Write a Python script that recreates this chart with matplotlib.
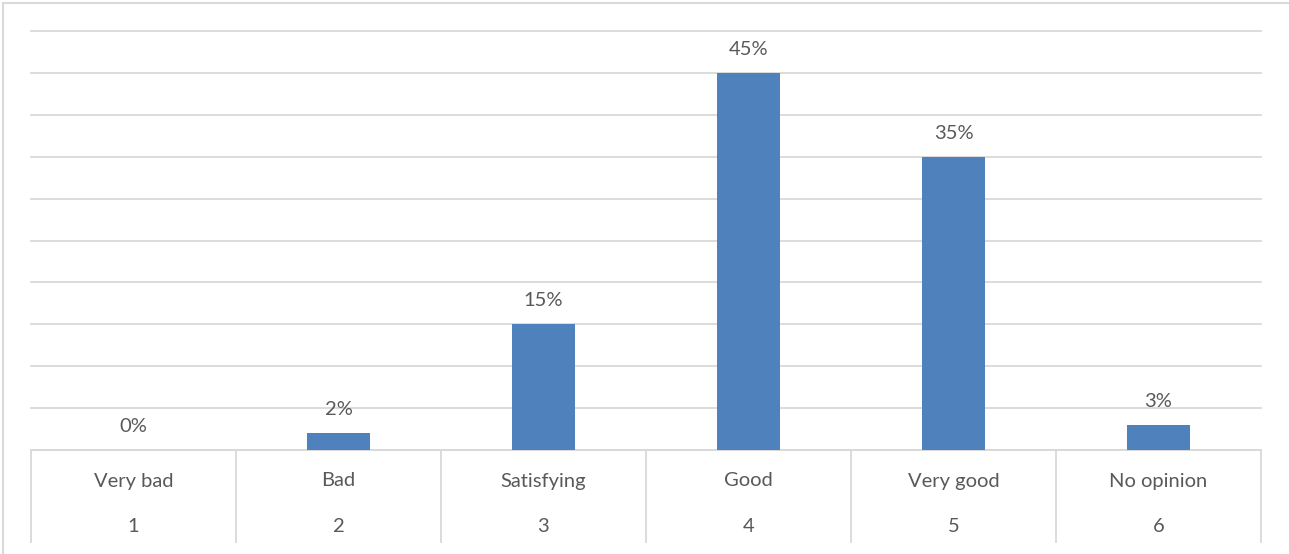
import matplotlib.pyplot as plt
from matplotlib.lines import Line2D
import matplotlib.transforms as mtransforms

# Survey results
categories = ["Very bad", "Bad", "Satisfying", "Good", "Very good", "No opinion"]
codes = ["1", "2", "3", "4", "5", "6"]
shares = [0.00, 0.02, 0.15, 0.45, 0.35, 0.03]
value_labels = ["0%", "2%", "15%", "45%", "35%", "3%"]

plt.rcParams["font.family"] = ["Lato", "DejaVu Sans"]

W, H = 1289, 554
fig = plt.figure(figsize=(W / 100, H / 100), dpi=100)
ax = fig.add_axes([31 / W, (H - 450) / H, (1261 - 31) / W, (450 - 31) / H])

text_color = "#595959"
grid_color = "#D9D9D9"
fs = 14.5
positions = list(range(1, len(categories) + 1))

ax.bar(positions, shares, width=0.31, color="#4F81BD", zorder=3)

for x, v, lab in zip(positions, shares, value_labels):
    ax.annotate(lab, (x, v), xytext=(0, 17), textcoords="offset points",
                ha="center", va="center", fontsize=fs, color=text_color)

ax.set_xlim(0.5, len(categories) + 0.5)
ax.set_ylim(0, 0.5)
ax.set_yticks([i * 0.05 for i in range(11)])
ax.yaxis.grid(True, color=grid_color, linewidth=1.3)
for gl in ax.get_ygridlines():
    gl.set_clip_on(False)
ax.set_axisbelow(True)
ax.tick_params(left=False, labelleft=False, bottom=False, labelbottom=False)
for s in ["top", "left", "right"]:
    ax.spines[s].set_visible(False)
ax.spines["bottom"].set_color(grid_color)
ax.spines["bottom"].set_linewidth(1.3)

# Two-level category axis with separators
trans = mtransforms.blended_transform_factory(ax.transData, fig.transFigure)
for i in range(len(categories) + 1):
    xs = 0.5 + i
    ax.plot([xs, xs], [(H - 450) / H, (H - 542) / H], transform=trans,
            color=grid_color, linewidth=1.3, clip_on=False)
for x, cat, code in zip(positions, categories, codes):
    fig.text(0, 0, cat, transform=trans, ha="center", va="center",
             fontsize=fs, color=text_color).set_position((x, (H - 481) / H))
    fig.text(0, 0, code, transform=trans, ha="center", va="center",
             fontsize=fs, color=text_color).set_position((x, (H - 527) / H))

# Chart frame (left and top edges)
fig.lines.append(Line2D([2.5 / W, 2.5 / W], [0, 1 - 2.5 / H], transform=fig.transFigure,
                        color=grid_color, linewidth=1.5))
fig.lines.append(Line2D([2.5 / W, 1], [1 - 2.5 / H, 1 - 2.5 / H], transform=fig.transFigure,
                        color=grid_color, linewidth=1.5))

fig.savefig("out.png", dpi=100)
